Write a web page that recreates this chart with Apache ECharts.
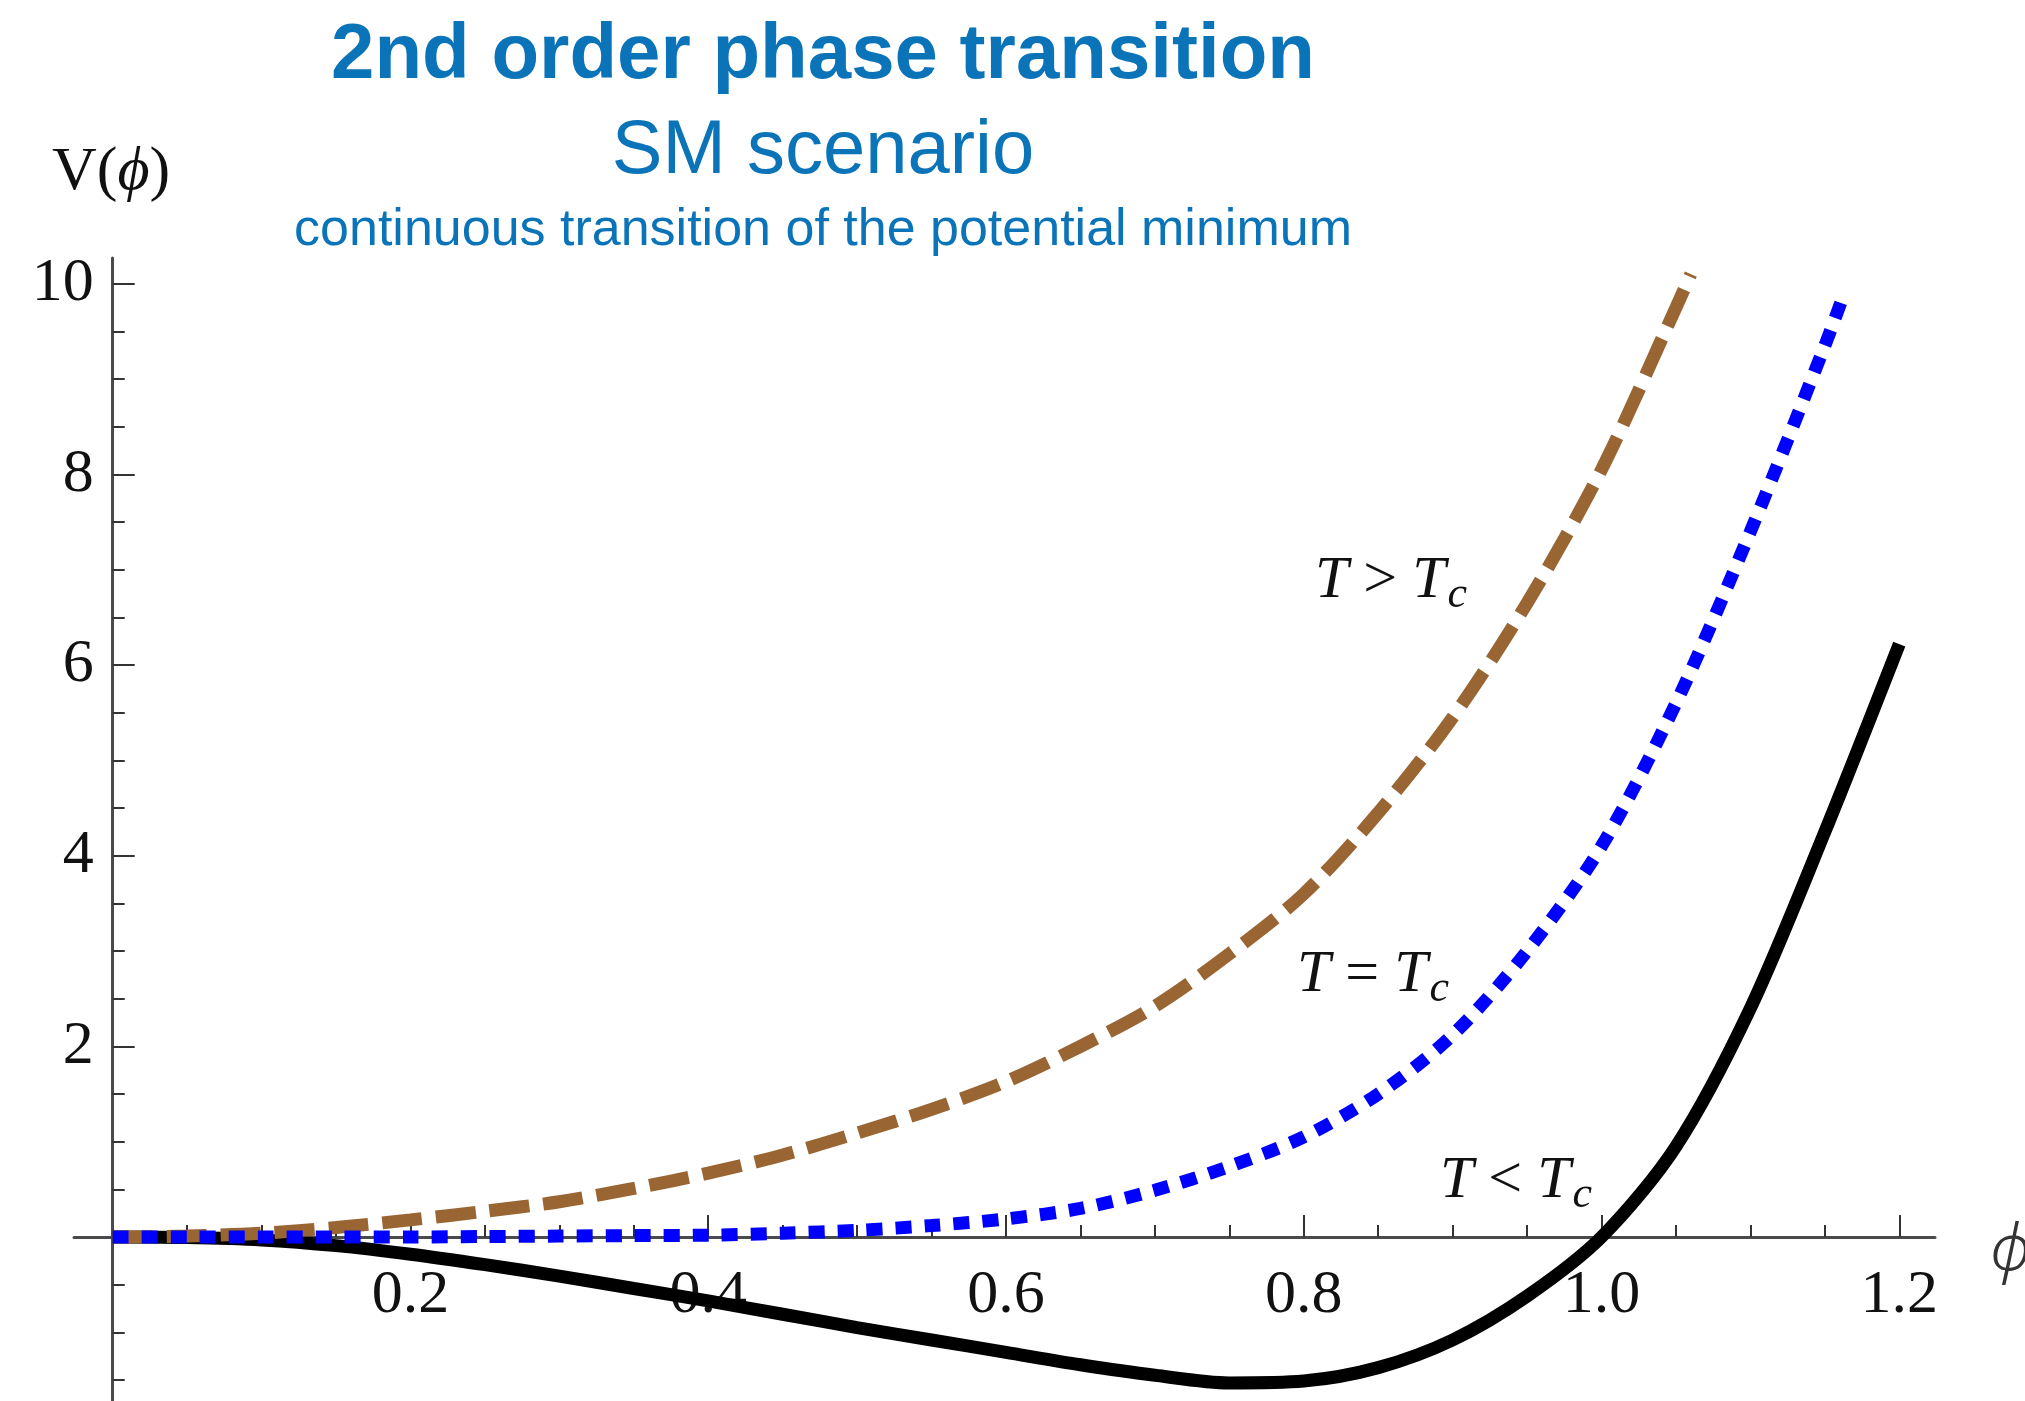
<!DOCTYPE html>
<html>
<head>
<meta charset="utf-8">
<title>2nd order phase transition</title>
<script src="https://cdn.jsdelivr.net/npm/echarts@6/dist/echarts.min.js"></script>
<style>
  html, body { margin: 0; padding: 0; background: #fff; }
  #chart { width: 2025px; height: 1401px; }
</style>
</head>
<body>
<div id="chart"></div>
<script>
// T > Tc (dashed brown)
const phiHot = [0, 0.05, 0.1, 0.15, 0.2, 0.25, 0.3, 0.35, 0.4, 0.45, 0.5, 0.55, 0.6, 0.65, 0.7, 0.75, 0.8, 0.85, 0.9, 0.95, 1.0, 1.05, 1.06];
const vHot = [0, 0.01, 0.04, 0.10, 0.18, 0.27, 0.37, 0.51, 0.67, 0.86, 1.09, 1.34, 1.63, 2.00, 2.42, 2.97, 3.60, 4.45, 5.45, 6.65, 8.05, 9.75, 10.1];

// T = Tc (dotted blue)
const phiCrit = [0, 0.05, 0.1, 0.15, 0.2, 0.25, 0.3, 0.35, 0.4, 0.45, 0.5, 0.55, 0.6, 0.65, 0.7, 0.75, 0.8, 0.85, 0.9, 0.95, 1.0, 1.05, 1.1, 1.15, 1.163];
const vCrit = [0, 0, 0, 0, 0, 0.005, 0.01, 0.015, 0.02, 0.04, 0.07, 0.12, 0.19, 0.30, 0.49, 0.74, 1.05, 1.50, 2.12, 3.0, 4.1, 5.6, 7.4, 9.35, 9.9];

// T < Tc (solid black)
const phiCold = [0, 0.05, 0.1, 0.15, 0.2, 0.25, 0.3, 0.35, 0.4, 0.45, 0.5, 0.55, 0.6, 0.65, 0.7, 0.75, 0.8, 0.85, 0.9, 0.95, 1.0, 1.05, 1.1, 1.15, 1.2];
const vCold = [0, -0.005, -0.03, -0.09, -0.18, -0.29, -0.41, -0.54, -0.67, -0.81, -0.95, -1.08, -1.21, -1.34, -1.45, -1.53, -1.51, -1.37, -1.08, -0.62, 0, 0.95, 2.4, 4.25, 6.22];

// ticks
const xMajor = [0.2, 0.4, 0.6, 0.8, 1.0, 1.2];
const xMinor = [0.05, 0.1, 0.15, 0.25, 0.3, 0.35, 0.45, 0.5, 0.55, 0.65, 0.7, 0.75, 0.85, 0.9, 0.95, 1.05, 1.1, 1.15];
const yMajor = [2, 4, 6, 8, 10];
const yMinor = [-1.5, -1, -0.5, 0.5, 1, 1.5, 2.5, 3, 3.5, 4.5, 5, 5.5, 6.5, 7, 7.5, 8.5, 9, 9.5];

const blue = '#0b74b8';
const serif = '"Liberation Serif", "Times New Roman", "DejaVu Serif", serif';
const sans = '"Liberation Sans", Arial, Helvetica, sans-serif';

function pairs(xs, ys) {
  return xs.map((x, i) => [x, ys[i]]);
}

var myChart = echarts.init(document.getElementById('chart'));

var axisLineStyle = { color: '#4a4a4a', width: 3 };
var tickStyle = { color: '#333', width: 2 };

// axes sit at phi = 0 / V = 0 inside the grid (moved in from the grid edge)
var X_RANGE = [-0.026, 1.224];
var Y_RANGE = [-1.72, 10.27];
var xAxisShift = -164;   // grid bottom -> V = 0
var yAxisShift = -38.7;  // grid left -> phi = 0

var richLabel = {
  i: { fontFamily: serif, fontStyle: 'italic', fontSize: 60, fill: '#111' },
  o: { fontFamily: serif, fontSize: 60, fill: '#111' },
  s: { fontFamily: serif, fontStyle: 'italic', fontSize: 44, fill: '#111', padding: [28, 0, 0, 2] }
};

var option = {
  animation: false,
  backgroundColor: '#fff',
  grid: {
    left: 74,
    right: 90,
    top: 258,
    bottom: 0,
    containLabel: false,
    outerBoundsMode: 'none'
  },
  xAxis: [
    {
      type: 'value',
      position: 'bottom',
      offset: xAxisShift,
      min: X_RANGE[0],
      max: X_RANGE[1],
      axisLine: { show: true, onZero: false, lineStyle: axisLineStyle },
      axisTick: { show: true, inside: true, length: 22, lineStyle: tickStyle, customValues: xMajor },
      axisLabel: {
        customValues: xMajor,
        margin: 28,
        fontFamily: serif,
        fontSize: 62,
        color: '#111',
        formatter: function (v) { return v.toFixed(1); }
      },
      splitLine: { show: false }
    },
    {
      type: 'value',
      position: 'bottom',
      offset: xAxisShift,
      min: X_RANGE[0],
      max: X_RANGE[1],
      axisLine: { show: false, onZero: false },
      axisTick: { show: true, inside: true, length: 12, lineStyle: tickStyle, customValues: xMinor },
      axisLabel: { show: false },
      splitLine: { show: false }
    }
  ],
  yAxis: [
    {
      type: 'value',
      position: 'left',
      offset: yAxisShift,
      min: Y_RANGE[0],
      max: Y_RANGE[1],
      axisLine: { show: true, onZero: false, lineStyle: axisLineStyle },
      axisTick: { show: true, inside: true, length: 22, lineStyle: tickStyle, customValues: yMajor },
      axisLabel: {
        customValues: yMajor,
        margin: 19,
        fontFamily: serif,
        fontSize: 62,
        color: '#111'
      },
      splitLine: { show: false }
    },
    {
      type: 'value',
      position: 'left',
      offset: yAxisShift,
      min: Y_RANGE[0],
      max: Y_RANGE[1],
      axisLine: { show: false, onZero: false },
      axisTick: { show: true, inside: true, length: 12, lineStyle: tickStyle, customValues: yMinor },
      axisLabel: { show: false },
      splitLine: { show: false }
    }
  ],
  graphic: [
    {
      type: 'text', x: 823, y: 56,
      style: { text: '2nd order phase transition', font: 'bold 78px ' + sans, fill: blue, align: 'center', verticalAlign: 'middle' }
    },
    {
      type: 'text', x: 823, y: 152,
      style: { text: 'SM scenario', font: '76px ' + sans, fill: blue, align: 'center', verticalAlign: 'middle' }
    },
    {
      type: 'text', x: 823, y: 231,
      style: { text: 'continuous transition of the potential minimum', font: '52px ' + sans, fill: blue, align: 'center', verticalAlign: 'middle' }
    },
    {
      type: 'text', x: 52, y: 173,
      style: {
        text: '{n|V(}{i|ϕ}{n|)}',
        align: 'left', verticalAlign: 'middle',
        rich: {
          n: { fontFamily: serif, fontSize: 62, fill: '#111' },
          i: { fontFamily: serif, fontStyle: 'italic', fontSize: 62, fill: '#111' }
        }
      }
    },
    {
      type: 'text', x: 1990, y: 1252,
      style: { text: 'ϕ', font: 'italic 300 64px "Noto Sans", "DejaVu Sans", sans-serif', fill: '#333', align: 'left', verticalAlign: 'middle' }
    },
    {
      type: 'text', x: 1315, y: 545,
      style: { text: '{i|T}{o| > }{i|T}{s|c}', align: 'left', verticalAlign: 'top', rich: richLabel }
    },
    {
      type: 'text', x: 1297, y: 939,
      style: { text: '{i|T}{o| = }{i|T}{s|c}', align: 'left', verticalAlign: 'top', rich: richLabel }
    },
    {
      type: 'text', x: 1440, y: 1145,
      style: { text: '{i|T}{o| < }{i|T}{s|c}', align: 'left', verticalAlign: 'top', rich: richLabel }
    }
  ],
  series: [
    {
      name: 'T < Tc',
      type: 'line',
      data: pairs(phiCold, vCold),
      showSymbol: false,
      smooth: 0.3,
      lineStyle: { color: '#000', width: 13 }
    },
    {
      name: 'T > Tc',
      type: 'line',
      data: pairs(phiHot, vHot),
      showSymbol: false,
      smooth: 0.3,
      lineStyle: { color: '#996633', width: 13, type: [40, 14], cap: 'butt' }
    },
    {
      name: 'T = Tc',
      type: 'line',
      data: pairs(phiCrit, vCrit),
      showSymbol: false,
      smooth: 0.3,
      lineStyle: { color: '#0000ff', width: 13, type: [16, 13], cap: 'butt' }
    }
  ]
};

option && myChart.setOption(option);
</script>
</body>
</html>
